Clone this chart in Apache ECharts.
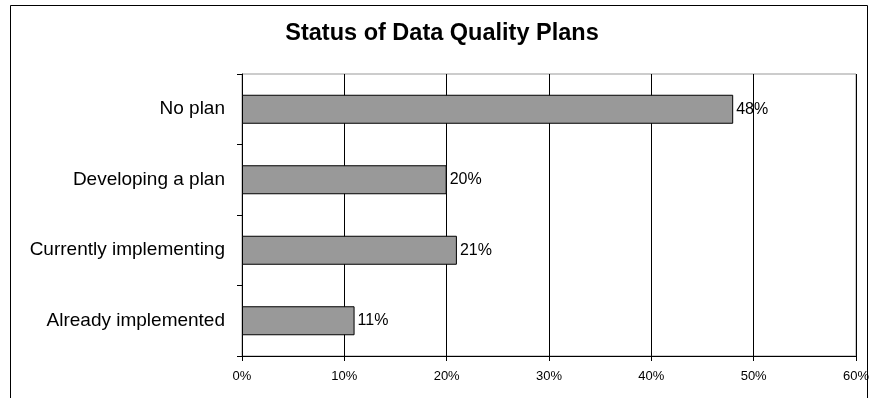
<!DOCTYPE html>
<html>
<head>
<meta charset="utf-8">
<script src="https://cdn.jsdelivr.net/npm/echarts@6/dist/echarts.min.js"></script>
<style>
  html, body { margin: 0; padding: 0; background: #fff; }
  #chart { width: 872px; height: 398px; }
</style>
</head>
<body>
<div id="chart"></div>
<script>
var categories = ['No plan', 'Developing a plan', 'Currently implementing', 'Already implemented']
var planValues = [48, 20, 21, 11]
var tickValues = [0, 10, 20, 30, 40, 50, 60]

var chart = echarts.init(document.getElementById('chart'))
var option = {
  backgroundColor: '#fff',
  animation: false,
  textStyle: { fontFamily: 'Liberation Sans, Arial, sans-serif' },
  title: {
    text: 'Status of Data Quality Plans',
    left: 437,
    textAlign: 'center',
    top: 17,
    textStyle: { fontSize: 23.5, fontWeight: 'bold', color: '#000', fontFamily: 'Liberation Sans, Arial, sans-serif' }
  },
  graphic: [{
    type: 'rect',
    shape: { x: 10.5, y: 5.5, width: 857, height: 420 },
    style: { fill: 'none', stroke: '#000', lineWidth: 1 },
    z: -1
  }],
  grid: {
    left: 242, right: 15, top: 74, bottom: 42,
    show: true, borderColor: '#999', borderWidth: 1
  },
  xAxis: {
    type: 'value',
    min: tickValues[0],
    max: tickValues[tickValues.length - 1],
    interval: 10,
    axisLine: { show: true, lineStyle: { color: '#000', width: 1 } },
    axisTick: { show: true, length: 5, lineStyle: { color: '#000' } },
    splitLine: { show: true, lineStyle: { color: '#000', width: 1 } },
    axisLabel: { formatter: '{value}%', fontSize: 13, color: '#000', margin: 14 }
  },
  yAxis: {
    type: 'category',
    inverse: true,
    data: categories,
    axisLine: { show: true, lineStyle: { color: '#000', width: 1 } },
    axisTick: { show: true, length: 5, lineStyle: { color: '#000' } },
    axisLabel: { fontSize: 19, color: '#000', margin: 17 }
  },
  series: [{
    type: 'bar',
    data: planValues,
    barWidth: 29,
    itemStyle: { color: '#999999', borderColor: '#000', borderWidth: 1 },
    label: {
      show: true,
      position: 'right',
      distance: 3,
      formatter: '{c}%',
      fontSize: 16,
      color: '#000'
    }
  }]
}
chart.setOption(option)
</script>
</body>
</html>
